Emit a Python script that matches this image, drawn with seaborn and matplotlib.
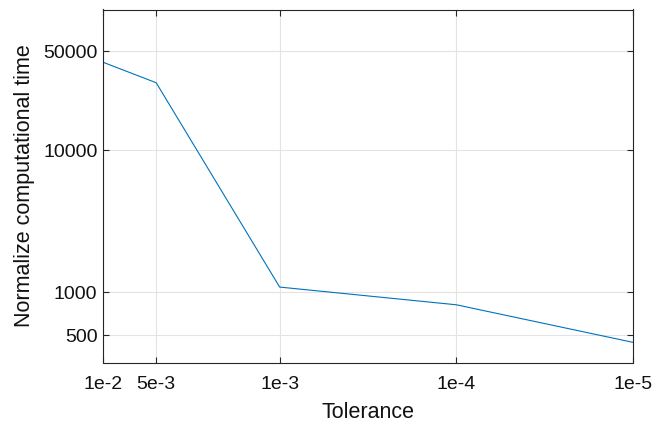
import numpy as np
import pandas as pd
import matplotlib
matplotlib.use("Agg")
import matplotlib.pyplot as plt
import seaborn as sns

# values
tolerance = [1e-2, 5e-3, 1e-3, 1e-4, 1e-5]
comp_time = [41700, 29900, 1090, 818, 445]
x_tick_labels = ["1e-2", "5e-3", "1e-3", "1e-4", "1e-5"]
y_ticks = [500, 1000, 10000, 50000]

df = pd.DataFrame({"Tolerance": tolerance, "Time": comp_time})

sns.set_style("ticks")
plt.rcParams["font.family"] = ["Liberation Sans", "DejaVu Sans"]

fig = plt.figure(figsize=(6.68, 4.25), dpi=100)
ax = fig.add_axes([103 / 668, 62.5 / 425, 530 / 668, 353 / 425])

sns.lineplot(data=df, x="Tolerance", y="Time", color="#0072BD", linewidth=0.8, ax=ax)

ax.set_xscale("log")
ax.set_yscale("log")
ax.set_xlim(1e-2, 1e-5)
ax.set_ylim(321, 98000)

ax.set_xticks(tolerance)
ax.set_xticklabels(x_tick_labels)
ax.set_yticks(y_ticks)
ax.set_yticklabels([str(v) for v in y_ticks])
ax.minorticks_off()

ax.grid(True, color="#e3e3e3", linewidth=0.8)
ax.set_axisbelow(True)

axis_col = "#262626"
for s in ax.spines.values():
    s.set_visible(True)
    s.set_color(axis_col)
    s.set_linewidth(0.8)
ax.tick_params(which="both", direction="in", top=True, right=True, length=4,
               width=0.8, color=axis_col, labelsize=14, labelcolor="#111111")
ax.tick_params(axis="x", pad=9.5)
ax.tick_params(axis="y", pad=4)

ax.set_xlabel("Tolerance", fontsize=15.5, labelpad=7, color="#111111")
ax.set_ylabel("Normalize computational time", fontsize=15.5, labelpad=6, color="#111111")

fig.savefig("out.png", dpi=100)
